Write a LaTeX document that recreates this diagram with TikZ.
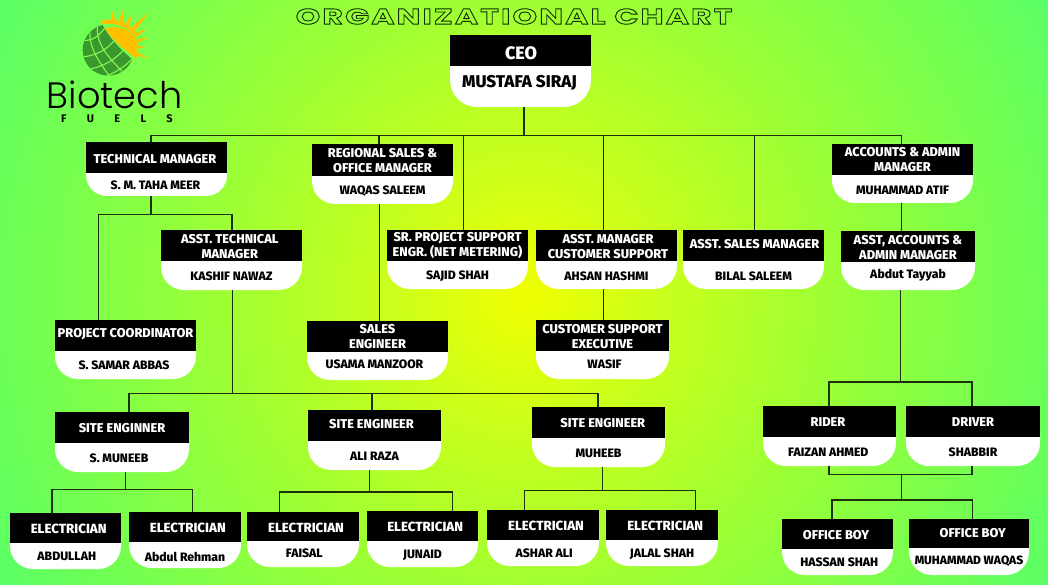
\documentclass[tikz,border=0pt]{standalone}
\usepackage{fontspec}
\usepackage{xcolor}
\usepackage{tikz}
\usetikzlibrary{calc}
\setmainfont{Fira Sans}[BoldFont={Fira Sans ExtraBold}]
\newfontfamily\titlefont{Poppins}[FakeStretch=1.45,LetterSpace=10]
\newfontfamily\logofont{Poppins Light}
\newfontfamily\fuelsfont{Fira Sans}[LetterSpace=185]
\definecolor{sungold}{RGB}{255,192,0}
\definecolor{globegreen}{RGB}{58,152,46}
\definecolor{gridgreen}{RGB}{130,250,80}
\definecolor{linkdark}{RGB}{28,48,14}
\definecolor{bgA}{RGB}{240,255,0}
\definecolor{bgB}{RGB}{205,255,25}
\definecolor{bgC}{RGB}{160,255,50}
\definecolor{bgD}{RGB}{110,255,85}
\definecolor{bgE}{RGB}{88,255,105}
\pgfdeclareradialshading{bgglow}{\pgfpoint{0bp}{0bp}}{color(0bp)=(bgA); color(5bp)=(bgB); color(12bp)=(bgC); color(21bp)=(bgD); color(25bp)=(bgE); color(50bp)=(bgE)}
\tikzset{
	headdx/.store in=\headdx, headdy/.store in=\headdy,
	namedx/.store in=\namedx, namedy/.store in=\namedy,
	cornerrad/.store in=\cornerrad, orgsize/.store in=\orgsize, headsize/.store in=\headsize,
	headdx=0, headdy=0, namedx=0, namedy=0, cornerrad=23, orgsize=12.2, headsize=12.8,
	headbox/.style={fill=black, inner sep=0pt, outer sep=0pt},
	namebox/.style={inner sep=0pt, outer sep=0pt},
	headtext/.style={text=white, inner sep=0pt, align=center, font=\fontsize{\headsize}{15}\selectfont\bfseries},
	nametext/.style={text=black, inner sep=0pt, align=center, font=\fontsize{\orgsize}{15}\selectfont\bfseries},
	link/.style={draw=linkdark, line width=1.1pt},
	gridline/.style={draw=gridgreen, line width=1.1pt},
}
% [shifts]{id}{x left}{x right}{y top}{y middle}{y bottom}{post}{person}
\newcommand{\orgbox}[9][]{
	\begin{scope}[#1]
		\fill[white, rounded corners=\cornerrad pt] (#3,#5) rectangle (#4,#7);
		\node[headbox, minimum width={(#4-#3)*1pt}, minimum height={(#6-#5)*1pt},
			label={[headtext, xshift=\headdx pt, yshift={-(\headdy+1)*1pt}]center:{#8}}] (#2) at ({(#3+#4)/2},{(#5+#6)/2}) {};
		\node[namebox, minimum width={(#4-#3)*1pt}, minimum height={(#7-#6)*1pt},
			label={[nametext, xshift=\namedx pt, yshift={-(\namedy+1)*1pt}]center:{#9}}] (#2-n) at ({(#3+#4)/2},{(#6+#7)/2}) {};
	\end{scope}
}

\begin{document}
\begin{tikzpicture}[x=1pt, y=-1pt]
	\useasboundingbox (0,0) rectangle (1048,585);
	\begin{scope}
		\clip (0,0) rectangle (1048,585);
		\shade[shading=bgglow] (525,295) circle (610);
	\end{scope}

	% title, outlined letters
	\node[inner sep=0pt] (title) at (514,16.5) {\special{pdf:code q 1 Tr 0.9 w 0.05 0.18 0.03 RG}\titlefont\fontsize{21.7}{22}\selectfont\bfseries ORGANIZATIONAL CHART\special{pdf:code Q}};

	% logo
	\begin{scope}[shift={(70,5)}, x=0.3333pt, y=-0.3333pt]
		\begin{scope}
			\clip (92,50) .. controls (120,105) and (160,140) .. (190,166) -- (190,230) -- (20,230) -- (20,48) -- cycle;
			\fill[globegreen] (115,135) circle (77);
			\clip (115,135) circle (77);
			\draw[gridline] (64,50) .. controls (50,110) and (70,150) .. (125,222);
			\draw[gridline] (84,45) .. controls (75,105) and (95,140) .. (170,212);
			\draw[gridline] (30,104) .. controls (60,112) and (85,100) .. (112,58);
			\draw[gridline] (30,156) .. controls (75,155) and (110,135) .. (135,104);
			\draw[gridline] (50,194) .. controls (105,185) and (140,160) .. (165,130);
			\draw[gridline] (85,222) .. controls (135,205) and (170,185) .. (195,150);
		\end{scope}
		\fill[sungold] (105,70) .. controls (130,60) and (185,66) .. (201,108) .. controls (205,130) and (202,145) .. (196,158) .. controls (165,135) and (125,105) .. (105,70) -- cycle;
		\fill[sungold] (94,46) .. controls (130,38) and (175,50) .. (200,88) -- (195,92) .. controls (170,62) and (130,52) .. (97,58) -- cycle;
		\fill[sungold] (122,46) -- (127,18) -- (136,44) -- cycle;
		\fill[sungold] (147,50) -- (158,13) -- (161,56) -- cycle;
		\fill[sungold] (165,58) -- (188,25) -- (176,68) -- cycle;
		\fill[sungold] (180,70) -- (236,22) -- (190,86) -- cycle;
		\fill[sungold] (194,85) -- (232,70) -- (198,98) -- cycle;
		\fill[sungold] (200,102) -- (238,98) -- (202,113) -- cycle;
		\fill[sungold] (201,122) -- (228,127) -- (201,131) -- cycle;
		\fill[sungold] (198,140) -- (235,160) -- (205,153) -- (194,165) -- cycle;
	\end{scope}
	\node[inner sep=0pt, anchor=base] (biotech) at (114.5,109) {\logofont\fontsize{36.7}{37}\selectfont Biotech};
	\node[inner sep=0pt, anchor=base] (fuels) at (117,123) {\fuelsfont\fontsize{11}{12}\selectfont\bfseries FUELS};

	% boxes
	\orgbox[headsize=18, orgsize=17, cornerrad=27, headdx=.5, headdy=1.5, namedx=-1, namedy=-5]{ceo}{450}{591}{35}{66}{107}{CEO}{MUSTAFA SIRAJ}
	\orgbox[headdx=-1.5, headdy=1, namedx=-1, cornerrad=21]{tech}{86}{227}{142}{173}{196}{TECHNICAL MANAGER}{S. M. TAHA MEER}
	\orgbox{regional}{312}{453}{144}{176}{204}{REGIONAL SALES \&\\OFFICE MANAGER}{WAQAS SALEEM}
	\orgbox[headdy=-1]{accounts}{832}{973}{144}{175}{203}{ACCOUNTS \& ADMIN\\MANAGER}{MUHAMMAD ATIF}
	\orgbox[headdx=-1.7]{asstech}{161}{302}{230}{261}{290}{ASST. TECHNICAL\\MANAGER}{KASHIF NAWAZ}
	\orgbox[headdy=-1]{srsupport}{387}{528}{230}{261}{289}{SR. PROJECT SUPPORT\\ENGR. (NET METERING)}{SAJID SHAH}
	\orgbox[headdx=1.5]{assmgr}{536}{677}{230}{261}{289}{ASST. MANAGER\\CUSTOMER SUPPORT}{AHSAN HASHMI}
	\orgbox[headdx=1, headdy=-2.5]{asssales}{683}{824}{230}{261}{289}{ASST. SALES MANAGER}{BILAL SALEEM}
	\orgbox[namedy=-2]{assacc}{841}{975}{231}{262}{290}{ASST, ACCOUNTS \&\\ADMIN MANAGER}{Abdut Tayyab}
	\orgbox[headdy=-2.5, namedx=-1.5, namedy=-1]{project}{55}{196}{320}{351}{379}{PROJECT COORDINATOR}{S. SAMAR ABBAS}
	\orgbox[headdy=-1, namedx=-3, namedy=-3]{sales}{307}{448}{321}{352}{380}{SALES\\ENGINEER}{USAMA MANZOOR}
	\orgbox[namedx=2, namedy=-2]{csexec}{536}{669}{320}{351}{379}{CUSTOMER SUPPORT\\EXECUTIVE}{WASIF}
	\orgbox[namedx=-3]{siteA}{55}{189}{412}{443}{472}{SITE ENGINNER}{S. MUNEEB}
	\orgbox[headdx=-3, headdy=-2.5]{siteB}{308}{441}{410}{441}{470}{SITE ENGINEER}{ALI RAZA}
	\orgbox[headdx=4.3]{siteC}{532}{665}{407}{438}{467}{SITE ENGINEER}{MUHEEB}
	\orgbox[headsize=13.3, headdx=3.2, namedx=1.3, namedy=-1]{elecA}{10}{121}{513}{543}{569}{ELECTRICIAN}{ABDULLAH}
	\orgbox[headsize=13.3, headdx=2.8, namedy=1]{elecB}{129}{241}{512}{542}{568}{ELECTRICIAN}{Abdul Rehman}
	\orgbox[headsize=13.3, headdx=3, namedx=1.3, namedy=-1.3]{elecC}{247}{359}{512}{541}{567}{ELECTRICIAN}{FAISAL}
	\orgbox[headsize=13.3, headdx=2.7, namedy=.7]{elecD}{367}{478}{511}{541}{567}{ELECTRICIAN}{JUNAID}
	\orgbox[headsize=13.3, headdx=3, namedx=1.2, namedy=-1]{elecE}{487}{599}{510}{540}{566}{ELECTRICIAN}{ASHAR ALI}
	\orgbox[headsize=13.3, headdx=3.2]{elecF}{606}{718}{510}{540}{566}{ELECTRICIAN}{JALAL SHAH}
	\orgbox[headdx=-1.5, namedx=-1.2]{rider}{763}{896}{406}{437}{466}{RIDER}{FAIZAN AHMED}
	\orgbox{driver}{906}{1040}{406}{437}{466}{DRIVER}{SHABBIR}
	\orgbox[headdx=-1.5, namedx=1.8, namedy=-1]{boyA}{782}{893}{519}{549}{575}{OFFICE BOY}{HASSAN SHAH}
	\orgbox[headdx=3.7, headdy=-1.5, namedy=-1.5, orgsize=12]{boyB}{909}{1029}{519}{548}{575}{OFFICE BOY}{MUHAMMAD WAQAS}

	% connectors
	\coordinate (topbus) at (524,135.3);
	\draw[link] (ceo-n.south -| topbus) -- (topbus);
	\draw[link] ([xshift=-5.5pt]tech.north) |- (topbus);
	\draw[link] ([xshift=-3.5pt]regional.north) |- (topbus);
	\draw[link] ([xshift=6pt]srsupport.north) |- (topbus);
	\draw[link] ([xshift=-3pt]assmgr.north) |- (topbus);
	\draw[link] ([xshift=1pt]asssales.north) |- (topbus);
	\draw[link] ([xshift=-1pt]accounts.north) |- (topbus);

	\coordinate (techbus) at (151,214.3);
	\draw[link] (tech-n.south -| techbus) -- (techbus);
	\draw[link] ([xshift=-26.8pt]project.north) |- (techbus);
	\draw[link] ([xshift=.5pt]asstech.north) |- (techbus);

	\coordinate (sitebus) at (232.3,393.7);
	\draw[link] (asstech-n.south -| sitebus) -- (sitebus);
	\draw[link] ([xshift=7pt]siteA.north) |- (sitebus);
	\draw[link] ([xshift=-2.5pt]siteB.north) |- (sitebus);
	\draw[link] ([xshift=-.5pt]siteC.north) |- (sitebus);

	\coordinate (busA) at (125.3,489.3);
	\draw[link] (siteA-n.south -| busA) -- (busA);
	\draw[link] ([xshift=-13.5pt]elecA.north) |- (busA);
	\draw[link] ([xshift=7.7pt]elecB.north) |- (busA);

	\coordinate (busB) at (369.3,492);
	\draw[link] (siteB-n.south -| busB) -- (busB);
	\draw[link] ([xshift=-23.3pt]elecC.north) |- (busB);
	\draw[link] ([xshift=29.8pt]elecD.north) |- (busB);

	\coordinate (busC) at (602.3,490.3);
	\draw[link] (siteC-n.south -| busC) -- (busC);
	\draw[link] ([xshift=-18.3pt]elecE.north) |- (busC);
	\draw[link] ([xshift=33.3pt]elecF.north) |- (busC);

	\draw[link] ([xshift=-3pt]regional-n.south) -- ([xshift=2pt]sales.north);
	\draw[link] ([xshift=-2.8pt]assmgr-n.south) -- ([xshift=1.2pt]csexec.north);
	\draw[link] ([xshift=-.8pt]accounts-n.south) -- ([xshift=-6.3pt]assacc.north);

	\coordinate (riderbus) at (900.7,382);
	\draw[link] (assacc-n.south -| riderbus) -- (riderbus);
	\draw[link] ([xshift=-.5pt]rider.north) |- (riderbus);
	\draw[link] ([xshift=-1pt]driver.north) |- (riderbus);

	\coordinate (joinbus) at (901.7,474.7);
	\coordinate (boybus) at (901.7,500);
	\draw[link] ([xshift=-.5pt]rider-n.south) |- (joinbus);
	\draw[link] ([xshift=-1pt]driver-n.south) |- (joinbus);
	\draw[link] (joinbus) -- (boybus);
	\draw[link] ([xshift=-5.5pt]boyA.north) |- (boybus);
	\draw[link] ([xshift=3.7pt]boyB.north) |- (boybus);
\end{tikzpicture}
\end{document}
